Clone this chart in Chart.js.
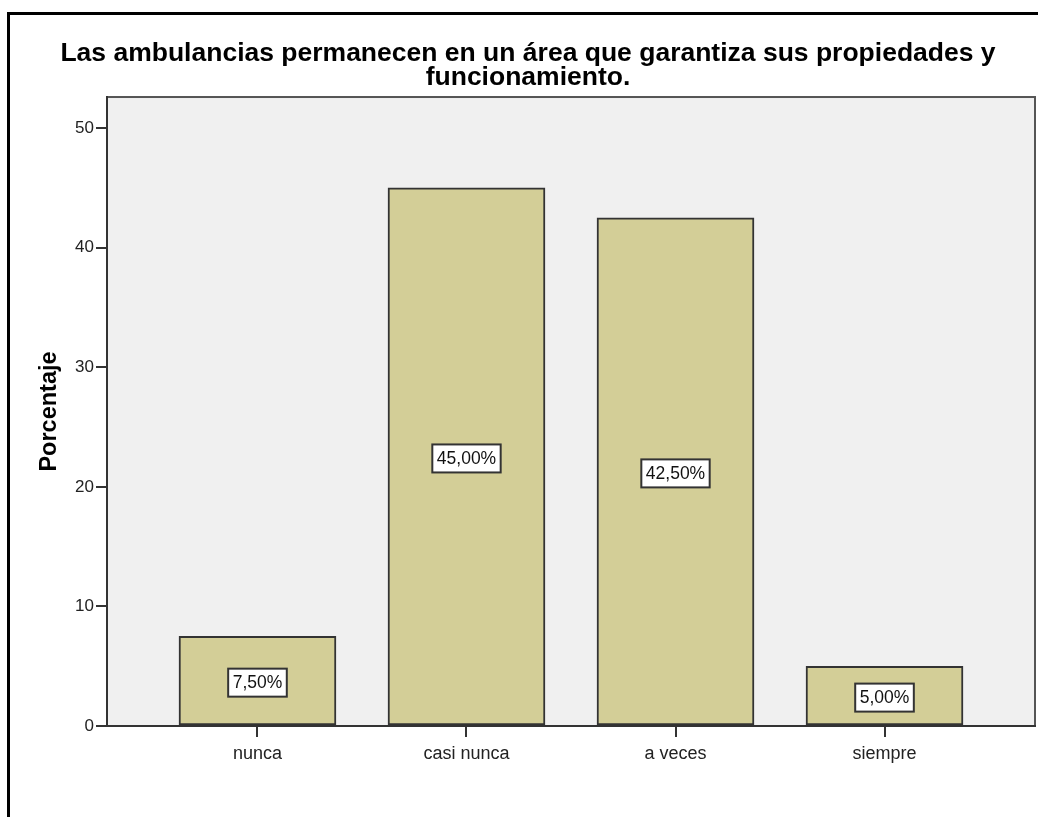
<!DOCTYPE html>
<html>
<head>
<meta charset="utf-8">
<script src="https://cdn.jsdelivr.net/npm/chart.js@4"></script>
<style>
  html, body { margin: 0; padding: 0; overflow: hidden; background: #fff; }
  #frame { position: absolute; left: 7px; top: 12px; right: -20px; bottom: -20px; border: 3px solid #000; }
  #box { position: absolute; left: 10px; top: 15px; width: 1036px; height: 802px; }
</style>
</head>
<body>
<div id="frame"></div>
<div id="box"><canvas id="barChart"></canvas></div>
<script>
const categories = ['nunca', 'casi nunca', 'a veces', 'siempre'];
const percents = [7.5, 45.0, 42.5, 5.0];
const yTicks = [0, 10, 20, 30, 40, 50];

const FONT = 'Liberation Sans, Arial, sans-serif';
const BAR_COLOR = '#d3ce97';
const LINE_COLOR = '#333333';

// grey plot background plus the frame around it
const plotFrame = {
  id: 'plotFrame',
  beforeDraw(chart) {
    const { ctx, chartArea: a } = chart;
    ctx.save();
    ctx.fillStyle = '#f0f0f0';
    ctx.fillRect(a.left, a.top, a.right - a.left, a.bottom - a.top);
    ctx.strokeStyle = '#555555';
    ctx.lineWidth = 2;
    ctx.strokeRect(a.left, a.top, a.right - a.left, a.bottom - a.top);
    ctx.restore();
  }
};

// white boxed percentage in the middle of each bar
const boxLabels = {
  id: 'boxLabels',
  afterDatasetsDraw(chart) {
    const { ctx } = chart;
    const meta = chart.getDatasetMeta(0);
    ctx.save();
    ctx.font = '17.5px ' + FONT;
    ctx.textAlign = 'center';
    ctx.textBaseline = 'middle';
    meta.data.forEach((bar, i) => {
      const text = percents[i].toFixed(2).replace('.', ',') + '%';
      const w = ctx.measureText(text).width + 9;
      const h = 28;
      const cy = (bar.y + bar.base) / 2 + 2;
      ctx.fillStyle = '#ffffff';
      ctx.fillRect(bar.x - w / 2, cy - h / 2, w, h);
      ctx.strokeStyle = LINE_COLOR;
      ctx.lineWidth = 2;
      ctx.strokeRect(bar.x - w / 2, cy - h / 2, w, h);
      ctx.fillStyle = '#111111';
      ctx.fillText(text, bar.x, cy + 1);
    });
    ctx.restore();
  }
};

const config = {
  type: 'bar',
  data: {
    datasets: [{
      data: percents.map((v, i) => ({ x: i, y: v })),
      backgroundColor: BAR_COLOR,
      borderColor: LINE_COLOR,
      borderWidth: 2,
      borderSkipped: false,
      barThickness: 157
    }]
  },
  options: {
    responsive: true,
    maintainAspectRatio: false,
    animation: false,
    layout: { padding: { top: 0, right: 11, bottom: 0, left: 11 } },
    plugins: {
      legend: { display: false },
      tooltip: { enabled: false },
      title: {
        display: true,
        text: ['Las ambulancias permanecen en un área que garantiza sus propiedades y', 'funcionamiento.'],
        color: '#000',
        font: { family: FONT, size: 26.5, weight: 'bold', lineHeight: 0.906 },
        padding: { top: 27, bottom: 7 }
      }
    },
    scales: {
      x: {
        type: 'linear',
        min: -0.72,
        max: 3.72,
        offset: false,
        afterBuildTicks: s => { s.ticks = categories.map((c, i) => ({ value: i })); },
        afterFit: s => { s.height = 91; },
        grid: { offset: false, drawOnChartArea: false, tickLength: 11, color: LINE_COLOR, lineWidth: 2 },
        border: { display: true, color: LINE_COLOR, width: 2 },
        ticks: {
          callback: v => categories[v],
          color: '#222',
          padding: 6,
          maxRotation: 0,
          font: { family: FONT, size: 18 }
        }
      },
      y: {
        min: 0,
        max: 52.6,
        afterBuildTicks: s => { s.ticks = yTicks.map(v => ({ value: v })); },
        afterFit: s => { s.width = 86; },
        grid: { drawOnChartArea: false, tickLength: 11, color: LINE_COLOR, lineWidth: 2 },
        border: { display: true, color: LINE_COLOR, width: 2 },
        ticks: { color: '#222', padding: 2, font: { family: FONT, size: 17 } },
        title: {
          display: true,
          text: 'Porcentaje',
          color: '#000',
          font: { family: FONT, size: 23.5, weight: 'bold' },
          padding: { top: 14, bottom: 0 }
        }
      }
    }
  },
  plugins: [plotFrame, boxLabels]
};

const myChart = new Chart(document.getElementById('barChart'), config);
</script>
</body>
</html>
